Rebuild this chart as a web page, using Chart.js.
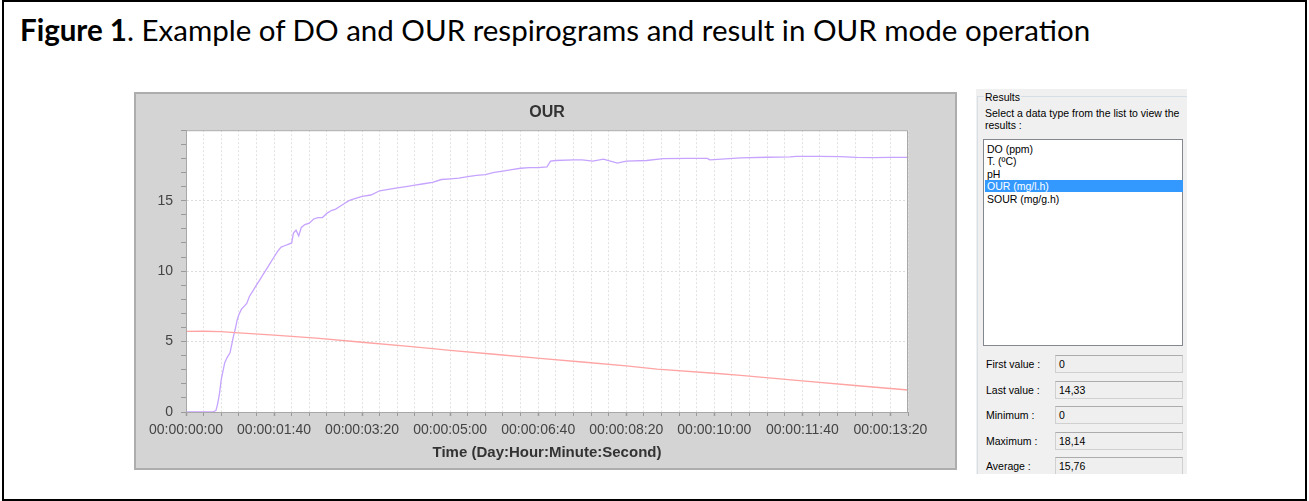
<!DOCTYPE html>
<html>
<head>
<meta charset="utf-8">
<script src="https://cdn.jsdelivr.net/npm/chart.js@4/dist/chart.umd.min.js"></script>
<style>
  html, body { margin: 0; padding: 0; background: #fff; }
  body { width: 1309px; height: 501px; position: relative; overflow: hidden; }
  #frame { position: absolute; left: 2px; top: 0; width: 1301px; height: 497px; border: 2px solid #000; }
  #caption { position: absolute; left: 20px; top: 12px; font-family: Lato, "Open Sans", sans-serif; font-size: 29.5px; color: #000; white-space: nowrap; }
  #caption b { font-weight: 700; }
  #chartBox { position: absolute; left: 134px; top: 92px; width: 823px; height: 378px; background: #d4d4d4; box-shadow: inset 0 0 0 2px #adadad; }
  #chartBox canvas { position: absolute; left: 0; top: 0; }
  #panel { position: absolute; left: 976px; top: 89px; width: 211px; height: 385px; background: #f0f0f0; overflow: hidden;
           font-family: "Liberation Sans", Arial, sans-serif; font-size: 10.5px; color: #000; }
  #group { position: absolute; left: 1px; top: 7px; width: 220px; height: 400px; border-top: 1px solid #d5dfe5; border-left: 1px solid #d5dfe5; }
  #groupLabel { position: absolute; left: 8px; top: 2px; background: #f0f0f0; padding: 0 1px; }
  #hint { position: absolute; left: 9px; top: 18px; line-height: 12px; width: 200px; }
  #list { position: absolute; left: 7px; top: 50px; width: 198px; height: 205px; background: #fff; border: 1px solid #828790; }
  .item { position: absolute; left: 1px; width: 198px; height: 12px; line-height: 12px; padding-left: 2px; box-sizing: border-box; }
  .item.sel { background: #3399ff; color: #fff; }
  .row { position: absolute; left: 10px; height: 18px; }
  .row span { position: absolute; left: 0; top: 3px; white-space: nowrap; }
  .row div { position: absolute; left: 69px; top: 0; width: 128px; height: 18px; box-sizing: border-box; border: 1px solid #d0d0d0; border-top-color: #acacac; background: #efefef; }
  .row div i { font-style: normal; position: absolute; left: 3px; top: 2px; }
</style>
</head>
<body>
<div id="frame"></div>
<div id="caption"><b>Figure 1</b>. Example of DO and OUR respirograms and result in OUR mode operation</div>

<div id="chartBox"><canvas id="ourChart" width="823" height="378"></canvas></div>

<div id="panel">
  <div id="group"></div>
  <div id="groupLabel">Results</div>
  <div id="hint">Select a data type from the list to view the results :</div>
  <div id="list"></div>
  <div id="rows"></div>
</div>

<script>
// OUR respirogram (purple), time in seconds
const ourTime = [0, 10, 20, 30, 34, 36, 38, 40, 42, 44, 47, 50, 52, 54, 56, 58, 60, 63, 66, 69, 72, 76, 80, 84, 88, 92,
  96, 100, 104, 108, 112, 116, 120, 122, 125, 128, 131, 135, 140, 145, 150, 155, 160, 165, 170, 175, 180, 185, 190,
  200, 210, 220, 230, 240, 250, 260, 270, 280, 290, 300, 310, 320, 330, 340, 350, 360, 370, 380, 390, 400, 410,
  414, 420, 440, 450, 462, 474, 490, 500, 523, 542, 570, 592, 595, 630, 660, 686, 693, 720, 743, 762, 780, 800, 820];
const ourValue = [0, 0, 0, 0, 0.1, 0.6, 1.3, 2.3, 2.9, 3.5, 3.9, 4.2, 4.8, 5.4, 5.9, 6.5, 6.9, 7.3, 7.5, 7.7, 8.2, 8.6, 9.0, 9.4, 9.8, 10.2,
  10.6, 11.0, 11.4, 11.7, 11.8, 11.9, 12.0, 12.7, 12.9, 12.5, 13.1, 13.3, 13.4, 13.7, 13.8, 13.8, 14.1, 14.3, 14.4, 14.6, 14.8, 15.0, 15.1,
  15.3, 15.4, 15.7, 15.8, 15.9, 16.0, 16.1, 16.2, 16.3, 16.5, 16.55, 16.6, 16.7, 16.8, 16.85, 17.0, 17.1, 17.2, 17.3, 17.35, 17.35, 17.4,
  17.8, 17.85, 17.9, 17.9, 17.8, 17.95, 17.67, 17.8, 17.85, 17.98, 18.0, 18.0, 17.9, 18.03, 18.08, 18.1, 18.14, 18.14, 18.12, 18.07, 18.05, 18.07, 18.07];

// DO respirogram (red)
const doTime = [0, 20, 40, 60, 100, 148, 200, 250, 277, 300, 350, 402, 450, 500, 535, 600, 630, 700, 760, 820];
const doValue = [5.72, 5.73, 5.7, 5.62, 5.45, 5.24, 4.95, 4.67, 4.51, 4.38, 4.1, 3.81, 3.55, 3.28, 3.05, 2.75, 2.6, 2.21, 1.88, 1.56];

const timeMax = 820;
const valueMax = 20;
const yLabelled = [0, 5, 10, 15];

// right-hand results panel
const dataTypes = ['DO (ppm)', 'T. (ºC)', 'pH', 'OUR (mg/l.h)', 'SOUR (mg/g.h)'];
const selectedType = 'OUR (mg/l.h)';
const statNames = ['First value :', 'Last value :', 'Minimum :', 'Maximum :', 'Average :'];
const statValues = ['0', '14,33', '0', '18,14', '15,76'];

function pairs(xs, ys) {
  return xs.map((x, i) => ({ x: x, y: ys[i] }));
}

function timeLabel(sec) {
  const m = Math.floor(sec / 60), s = sec % 60;
  const p = n => String(n).padStart(2, '0');
  return '00:00:' + p(m) + ':' + p(s);
}

// white plot area and its frame
const plotFrame = {
  id: 'plotFrame',
  beforeDraw(chart) {
    const { ctx, chartArea: a } = chart;
    ctx.save();
    ctx.fillStyle = '#ffffff';
    ctx.fillRect(a.left, a.top, a.right - a.left, a.bottom - a.top);
    ctx.restore();
  },
  afterDraw(chart) {
    const { ctx, chartArea: a } = chart;
    ctx.save();
    ctx.strokeStyle = '#a8a8a8';
    ctx.lineWidth = 1;
    ctx.strokeRect(a.left + 0.5, a.top + 0.5, a.right - a.left - 1, a.bottom - a.top);
    ctx.restore();
  }
};

const tickFont = { family: 'Liberation Sans', size: 14 };

new Chart(document.getElementById('ourChart'), {
  type: 'line',
  data: {
    datasets: [
      { label: 'DO', data: pairs(doTime, doValue), borderColor: '#ffa3a3', borderWidth: 1.3, pointRadius: 0, tension: 0 },
      { label: 'OUR', data: pairs(ourTime, ourValue), borderColor: '#c6a3ff', borderWidth: 1.3, pointRadius: 0, tension: 0 }
    ]
  },
  options: {
    responsive: false,
    devicePixelRatio: 1,
    animation: false,
    layout: { padding: { left: 0, right: 49, top: 0, bottom: 0 } },
    plugins: {
      legend: { display: false },
      tooltip: { enabled: false },
      title: {
        display: true,
        fullSize: false,
        text: 'OUR',
        color: '#333',
        font: { family: 'Liberation Sans', size: 16, weight: 'bold', lineHeight: 1.2 },
        padding: { top: 11, bottom: 8 }
      }
    },
    scales: {
      x: {
        type: 'linear',
        min: 0,
        max: timeMax,
        afterFit: s => { s.height = 58; },
        ticks: {
          stepSize: 20,
          autoSkip: false,
          maxRotation: 0,
          padding: 6,
          color: '#444',
          font: tickFont,
          callback: v => (v % 100 === 0 ? timeLabel(v) : '')
        },
        grid: {
          color: c => (c.tick && c.tick.value > 0 ? '#e2e2e2' : 'rgba(0,0,0,0)'),
          tickColor: '#9a9a9a',
          tickLength: 4,
          tickWidth: c => (c.tick && c.tick.value % 100 === 0 ? 1.5 : 1)
        },
        border: { color: '#a0a0a0', dash: [2, 2] },
        title: {
          display: true,
          text: 'Time (Day:Hour:Minute:Second)',
          color: '#333',
          font: { family: 'Liberation Sans', size: 15, weight: 'bold' },
          padding: { top: 0, bottom: 8 }
        }
      },
      y: {
        min: 0,
        max: valueMax,
        afterFit: s => { s.width = 52; },
        ticks: {
          stepSize: 1,
          autoSkip: false,
          padding: 8,
          color: '#444',
          font: tickFont,
          callback: v => (yLabelled.includes(v) ? String(v) : '')
        },
        grid: {
          color: c => (c.tick && c.tick.value % 5 === 0 && c.tick.value > 0 && c.tick.value < valueMax ? '#dcdcdc' : 'rgba(0,0,0,0)'),
          tickColor: '#9a9a9a',
          tickLength: 5
        },
        border: { color: '#a0a0a0', dash: [2, 2] }
      }
    }
  },
  plugins: [plotFrame]
});

// results panel
const list = document.getElementById('list');
dataTypes.forEach((t, i) => {
  const d = document.createElement('div');
  d.className = 'item' + (t === selectedType ? ' sel' : '');
  d.style.top = (3 + i * 12.4) + 'px';
  d.textContent = t;
  list.appendChild(d);
});
const rows = document.getElementById('rows');
statNames.forEach((n, i) => {
  const r = document.createElement('div');
  r.className = 'row';
  r.style.top = (266 + i * 25.5) + 'px';
  r.innerHTML = '<span></span><div><i></i></div>';
  r.querySelector('span').textContent = n;
  r.querySelector('i').textContent = statValues[i];
  rows.appendChild(r);
});
</script>
</body>
</html>
